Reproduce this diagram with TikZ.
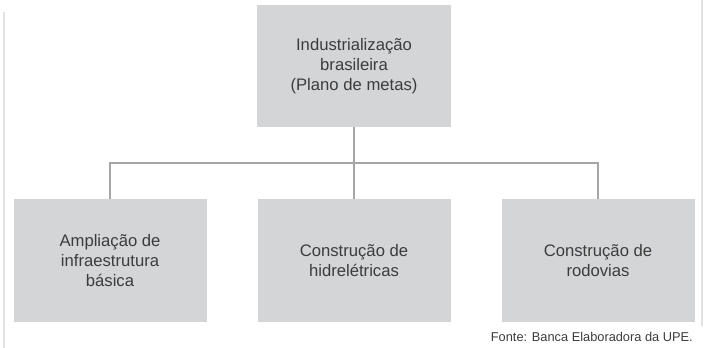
\documentclass[tikz,border=0pt]{standalone}
\usepackage{fontspec}
\setmainfont{Liberation Sans}
\definecolor{boxfill}{HTML}{D4D5D7}
\definecolor{txt}{HTML}{3C3C3C}
\definecolor{conn}{HTML}{A6A6A6}
\definecolor{frame}{HTML}{E2E2E2}
\tikzset{
  box/.style={fill=boxfill, draw=none, text=txt, align=center,
    font=\fontsize{12.5}{15}\selectfont, inner sep=0pt},
  topbox/.style={box, minimum width=146pt, minimum height=91.5pt},
  lowbox/.style={box, minimum width=144.75pt, minimum height=92.25pt},
  conline/.style={draw=conn, line width=0.9pt},
  frameline/.style={draw=frame, line width=1.6pt},
  source/.style={text=txt, font=\fontsize{9.6}{11}\selectfont, inner sep=0pt}
}
\begin{document}
\begin{tikzpicture}[x=0.75pt,y=-0.75pt]
\useasboundingbox (0,0) rectangle (705,348);
\coordinate (fl1) at (4,12);
\coordinate (fl2) at (4,348);
\coordinate (fr1) at (702,0);
\coordinate (fr2) at (702,326);
\draw[frameline] (fl1) -- (fl2);
\draw[frameline] (fr1) -- (fr2);

\node[topbox] (top) at (354,66) {Industrialização\\brasileira\\(Plano de metas)};
\node[lowbox] (b1) at (110,260.5) {Ampliação de\\infraestrutura\\básica};
\node[lowbox] (b2) at (354,260.5) {Construção de\\hidrelétricas};
\node[lowbox] (b3) at (598,260.5) {Construção de\\rodovias};

\coordinate (j) at (354,163);
\draw[conline] (top.south) -- (b2.north);
\draw[conline] (b1.north) -- (b1.north |- j) -- (b3.north |- j) -- (b3.north);

\node[source, anchor=base east] (src) at (693,341) {Fonte: Banca Elaboradora da UPE.};
\end{tikzpicture}
\end{document}
